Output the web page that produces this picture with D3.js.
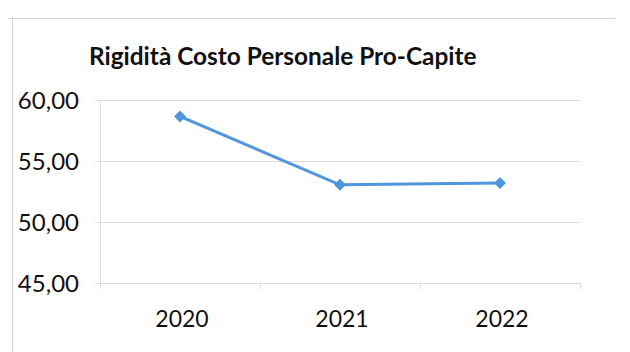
<!DOCTYPE html>
<html><head><meta charset="utf-8">
<script src="https://cdn.jsdelivr.net/npm/d3@7"></script>
<style>body{margin:0;background:#fff}svg{display:block}</style>
</head><body><svg id="c" width="630" height="352"></svg>
<script>
const title = "Rigidità Costo Personale Pro-Capite";
const categories = ["2020", "2021", "2022"];
const values = [58.65, 53.05, 53.2];
const yTicks = [45, 50, 55, 60];

const svg = d3.select("#c");
const font = "Lato, 'Open Sans', 'Liberation Sans', sans-serif";
const m = {left: 100, right: 580, top: 100, bottom: 283};

// chart frame
svg.append("line").attr("x1", 8).attr("x2", 615).attr("y1", 18.5).attr("y2", 18.5).attr("stroke", "#d6d6d6");
svg.append("line").attr("x1", 12.5).attr("x2", 12.5).attr("y1", 18).attr("y2", 352).attr("stroke", "#d6d6d6");

svg.append("text").text(title).attr("x", 89).attr("y", 65)
  .attr("font-family", font).attr("font-weight", "bold").attr("font-size", 24.4).attr("fill", "#111");

const x = d3.scaleBand().domain(categories).range([m.left, m.right]);
const y = d3.scaleLinear().domain([45, 60]).range([m.bottom, m.top]);

// gridlines
svg.append("g").selectAll("line").data(yTicks).join("line")
  .attr("x1", m.left - 5).attr("x2", m.right).attr("y1", d => y(d) + .5).attr("y2", d => y(d) + .5)
  .attr("stroke", "#dcdcdc");
svg.append("line").attr("x1", m.left + .5).attr("x2", m.left + .5).attr("y1", m.top).attr("y2", m.bottom + 6).attr("stroke", "#e2e2e2");
// category ticks
svg.append("g").selectAll("line").data(categories).join("line")
  .attr("x1", d => x(d) + x.bandwidth() + .5).attr("x2", d => x(d) + x.bandwidth() + .5)
  .attr("y1", m.bottom).attr("y2", m.bottom + 6).attr("stroke", "#dcdcdc");

// y labels
const fmt = d => d3.format(".2f")(d).replace(".", ",");
svg.append("g").selectAll("text").data(yTicks).join("text")
  .attr("x", 79).attr("y", d => y(d) + 9).attr("text-anchor", "end")
  .attr("font-family", font).attr("font-size", 24).attr("fill", "#111").text(fmt);

// x labels
svg.append("g").selectAll("text").data(categories).join("text")
  .attr("x", d => x(d) + x.bandwidth() / 2 + 2).attr("y", 327).attr("text-anchor", "middle")
  .attr("font-family", font).attr("font-size", 23).attr("fill", "#111").text(d => d);

const pts = categories.map((c, i) => [x(c) + x.bandwidth() / 2, y(values[i])]);
svg.append("path").attr("d", d3.line()(pts)).attr("fill", "none")
  .attr("stroke", "#4f96de").attr("stroke-width", 3);
svg.append("g").selectAll("path").data(pts).join("path")
  .attr("d", d3.symbol(d3.symbolSquare, 72)())
  .attr("transform", d => `translate(${d[0]},${d[1]}) rotate(45)`)
  .attr("fill", "#4f96de");
</script></body></html>
